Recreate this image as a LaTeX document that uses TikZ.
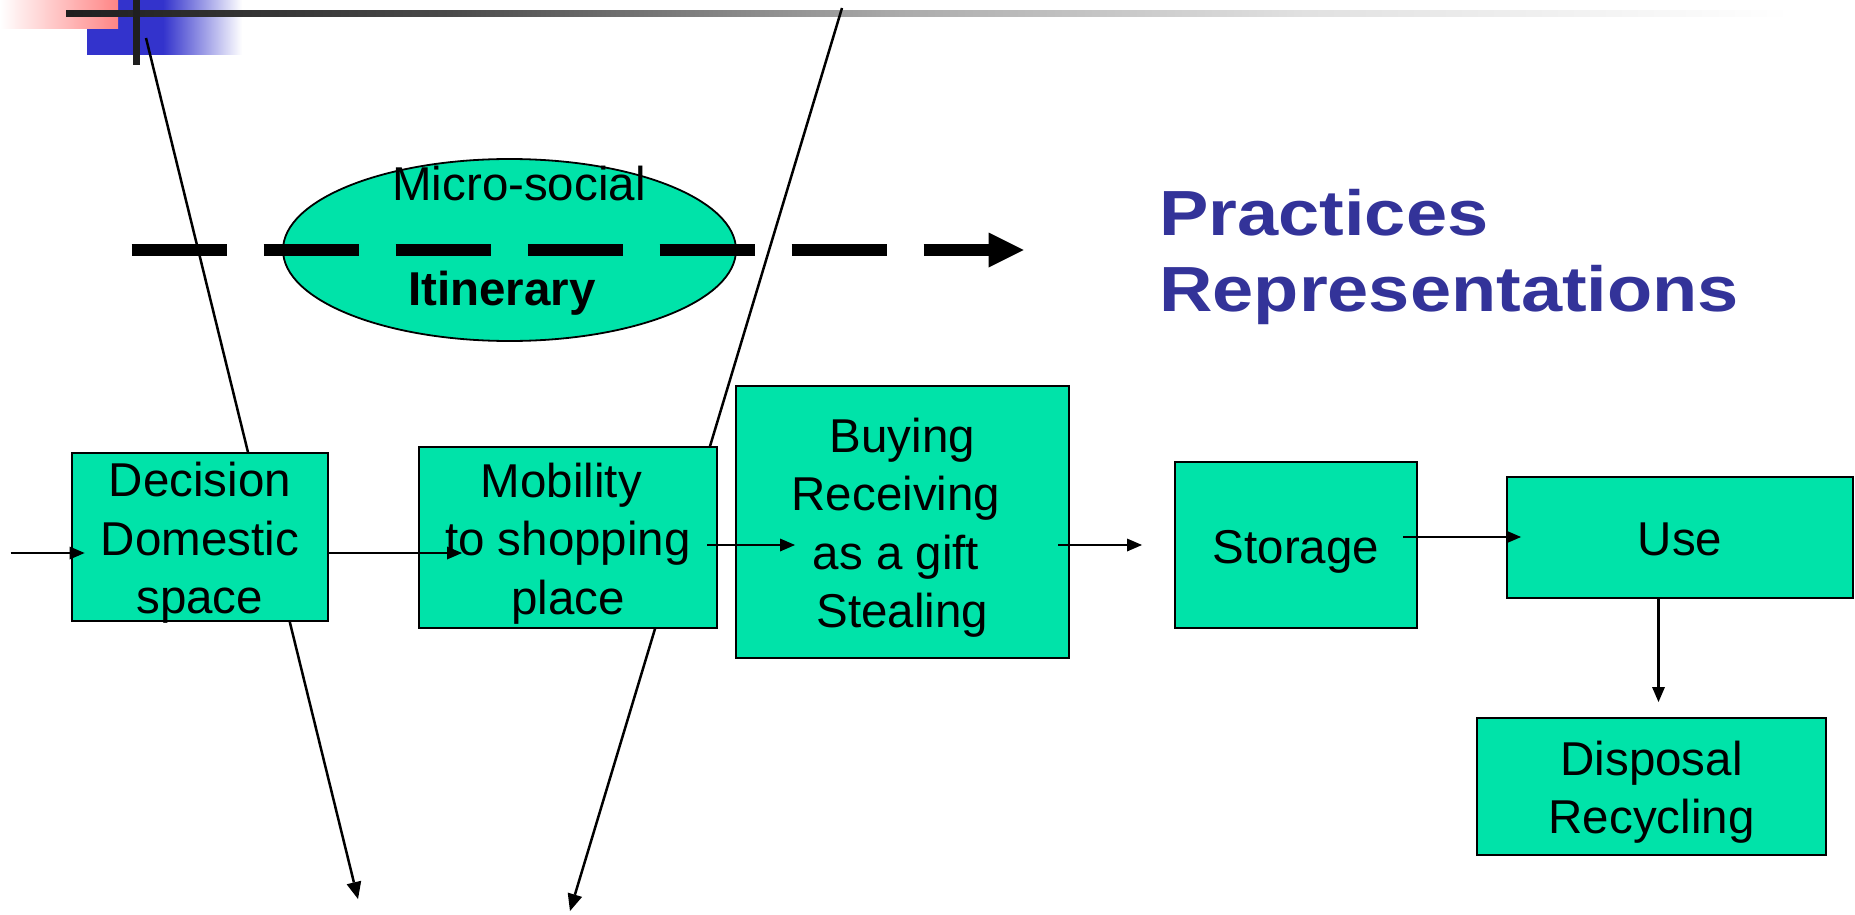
\documentclass[tikz,border=0pt]{standalone}
\usepackage{fontspec}
\setmainfont{Liberation Sans}
\newfontfamily\titlefont{Liberation Sans}[FakeStretch=1.16]
\usetikzlibrary{arrows.meta,calc,shapes.geometric}
\definecolor{boxfill}{HTML}{00E3A9}
\definecolor{titleblue}{HTML}{333399}
\definecolor{decoblue}{HTML}{3333CC}
\definecolor{decopink}{HTML}{FF8585}
\newcommand{\boxlines}[1]{\begin{tabular}{@{}c@{}}#1\end{tabular}}
\newcommand{\trail}{\makebox[13.2pt]{}}
\tikzset{
  stagebox/.style={draw=black, line width=2pt, fill=boxfill, rectangle, inner sep=0pt},
  boxlabel/.style={inner sep=0pt, font=\fontsize{47.5pt}{58.4pt}\selectfont},
  titletext/.style={anchor=base west, inner sep=0pt, text=titleblue,
    font=\titlefont\bfseries\fontsize{63.8pt}{76.7pt}\selectfont},
  conn/.style={line width=2.2pt, -{Triangle[length=15pt,width=13pt,line width=0pt]}},
  slant/.style={line width=2.5pt, -{Triangle[length=17pt,width=15pt,line width=0pt]}},
  bigdash/.style={line width=12pt, dash pattern=on 95.6pt off 36.4pt,
    -{Triangle[length=35pt,width=35pt,line width=0pt]}}
}
\begin{document}
\begin{tikzpicture}[x=1pt,y=-1pt]
\useasboundingbox (0,0) rectangle (1855,915);
\fill[white] (0,0) rectangle (1855,915);
% corner decoration
\fill[decoblue] (87,0) rectangle (164,55);
\shade[left color=decoblue, right color=white] (163,0) rectangle (242,55);
\shade[left color=white, right color=decopink] (0,0) rectangle (118,29);
\shade[left color=black!88, right color=black!71] (66,10.3) rectangle (450.5,17);
\shade[left color=black!71, right color=black!33] (450,10.3) rectangle (900.5,17);
\shade[left color=black!33, right color=black!12] (900,10.3) rectangle (1300.5,17);
\shade[left color=black!12, right color=white] (1300,10.3) rectangle (1790,17);
\fill[black!88] (133,0) rectangle (139.7,65);
% slanted lines
\coordinate (l1top) at (146,38);
\coordinate (l1end) at (358,899);
\coordinate (l2top) at (842,8);
\coordinate (l2end) at (570,911);
\draw[slant] (l1top) -- (l1end);
\draw[slant] (l2top) -- (l2end);
% ellipse
\node[ellipse, draw=black, line width=1.8pt, fill=boxfill, minimum width=453pt,
  minimum height=182pt, inner sep=0pt] (itin) at (509.5,250) {};
\node[boxlabel, anchor=base] (micro) at (519,200.7) {Micro-social};
\node[boxlabel, anchor=base, font=\fontsize{47.5pt}{58.4pt}\selectfont\bfseries] (itxt) at (502,305.7) {Itinerary};
% boxes
\node[stagebox, minimum width=256.4pt, minimum height=168pt] (dec) at (199.8,537) {};
\node[stagebox, minimum width=298pt, minimum height=181pt] (mob) at (568,537.5) {};
\node[stagebox, minimum width=333pt, minimum height=272pt] (buy) at (902.5,522) {};
\node[stagebox, minimum width=242pt, minimum height=166pt] (sto) at (1296,545) {};
\node[stagebox, minimum width=346pt, minimum height=121pt] (use) at (1680,537.5) {};
\node[stagebox, minimum width=349pt, minimum height=137pt] (dis) at (1651.5,786.5) {};
\node[boxlabel, yshift=-6.5pt] (dect) at (dec) {\boxlines{Decision\\Domestic\\space}};
\node[boxlabel, yshift=-6.5pt] (mobt) at (mob) {\boxlines{Mobility\trail\\to shopping\\place}};
\node[boxlabel, yshift=-6.5pt] (buyt) at (buy) {\boxlines{Buying\\Receiving\trail\\as a gift\trail\\Stealing}};
\node[boxlabel, yshift=-6.5pt] (stot) at (sto) {\boxlines{Storage}};
\node[boxlabel, yshift=-6.5pt] (uset) at (use) {\boxlines{Use}};
\node[boxlabel, yshift=-6.5pt] (dist) at (dis) {\boxlines{Disposal\\Recycling}};
% title
\node[titletext] (prac) at (1159,235) {Practices};
\node[titletext] (repr) at (1159,311.7) {Representations};
% dashed arrow
\coordinate (dA) at (131.7,250);
\coordinate (dB) at (1023.5,250);
\draw[bigdash] (dA) -- (dB);
% connectors
\coordinate (inA) at (10.5,553);
\draw[conn] (inA) -- ($(dec.west)+(14,16)$);
\draw[conn] ($(dec.east)+(0,16)$) -- ($(mob.west)+(44,15.5)$);
\draw[conn] ($(mob.east)+(-11,7.5)$) -- ($(buy.west)+(60,23)$);
\draw[conn] ($(buy.east)+(-12,23)$) -- ($(sto.west)+(-32,0)$);
\draw[conn] ($(sto.east)+(-15,-8)$) -- ($(use.west)+(15,-0.5)$);
\draw[conn] ($(use.south)+(-21.5,0)$) -- ($(dis.north)+(7,-15)$);
\end{tikzpicture}
\end{document}
